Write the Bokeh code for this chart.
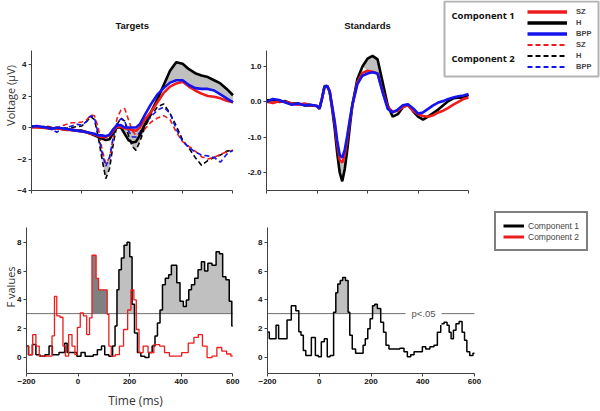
import numpy as np
from bokeh.plotting import figure
from bokeh.layouts import row, column
from bokeh.models import (Label, Legend, LegendItem, BoxAnnotation,
                          PrintfTickFormatter, FixedTicker)
from bokeh.embed import file_html
from bokeh.resources import INLINE

# ---------------------------------------------------------------- data
time_ticks = [-200, 0, 200, 400, 600]

# Targets ERP (uV)
t_targets = [-200, -180, -160, -140, -120, -100, -80, -60, -40, -20,
             0, 20, 35, 50, 65, 80, 95, 110, 125, 140,
             155, 170, 185, 200, 215, 230, 250, 275, 300, 325,
             350, 375, 400, 425, 450, 475, 500, 525, 550, 575, 600]
tgt_H_c1 = [0.05, 0.05, 0.0, 0.0, -0.05, -0.05, -0.1, -0.1, -0.15, -0.2,
            -0.2, -0.3, -0.4, -0.5, -0.6, -0.7, -0.8, -0.75, -0.3, 0.0,
            0.0, -0.4, -0.8, -0.95, -0.9, -0.5, 0.2, 1.0, 1.8, 2.7,
            3.6, 4.15, 4.05, 3.7, 3.45, 3.3, 3.2, 3.0, 2.8, 2.45, 2.05]
tgt_SZ_c1 = [0.0, 0.0, 0.0, -0.05, -0.1, -0.05, -0.1, -0.15, -0.15, -0.2,
             -0.25, -0.3, -0.4, -0.45, -0.55, -0.6, -0.6, -0.5, -0.2, 0.05,
             0.05, -0.05, -0.1, -0.15, -0.2, 0.0, 0.5, 1.0, 1.6, 2.2,
             2.6, 2.8, 2.9, 2.6, 2.35, 2.15, 2.0, 1.95, 1.85, 1.7, 1.6]
tgt_BPP_c1 = [0.05, 0.1, 0.05, 0.0, -0.1, 0.0, -0.05, -0.1, -0.15, -0.2,
              -0.25, -0.3, -0.35, -0.4, -0.5, -0.5, -0.55, -0.45, -0.1, 0.15,
              0.15, 0.0, 0.0, 0.0, 0.0, 0.2, 0.8, 1.5, 2.1, 2.5,
              2.85, 3.0, 3.0, 2.7, 2.5, 2.45, 2.45, 2.35, 2.1, 1.85, 1.6]
tgt_H_c2 = [0.1, 0.05, 0.0, 0.0, 0.0, -0.05, -0.1, -0.05, 0.0, 0.05,
            0.1, 0.4, 0.7, 0.5, -0.6, -2.0, -3.25, -2.6, -1.0, 0.2,
            0.6, 0.4, -0.5, -1.2, -1.45, -0.9, 0.0, 0.8, 1.3, 1.5,
            0.9, 0.1, -0.8, -1.3, -1.9, -2.4, -2.1, -1.9, -1.75, -1.5, -1.45]
tgt_SZ_c2 = [0.05, 0.0, 0.05, 0.1, 0.0, 0.0, 0.1, 0.2, 0.3, 0.3,
             0.35, 0.5, 0.8, 0.75, 0.0, -1.4, -2.3, -1.9, -0.6, 0.6,
             1.1, 1.2, 0.5, -0.2, -0.5, -0.4, -0.1, 0.35, 0.6, 0.75,
             0.5, -0.3, -0.9, -1.2, -1.5, -1.85, -2.0, -1.9, -1.7, -1.55, -1.45]
tgt_BPP_c2 = [0.05, 0.1, 0.05, 0.0, -0.1, -0.3, -0.1, 0.0, 0.1, 0.2,
              0.15, 0.4, 0.75, 0.6, -0.4, -1.6, -2.45, -1.9, -0.6, 0.3,
              0.55, 0.4, -0.2, -0.6, -0.6, -0.3, 0.2, 0.7, 1.1, 1.3,
              0.9, -0.1, -0.9, -1.25, -1.55, -1.75, -1.8, -1.9, -2.2, -1.7, -1.45]
tgt_c1_sig = [(145, 235), (320, 600)]
tgt_c2_sig = [(60, 115), (185, 230)]

# Standards ERP (uV)
t_standards = [-200, -175, -150, -125, -100, -75, -50, -25, 0, 10,
               20, 30, 40, 50, 60, 70, 80, 90, 100, 110,
               120, 130, 140, 160, 180, 200, 220, 240, 260, 280,
               300, 320, 340, 360, 380, 400, 420, 440, 460, 480,
               500, 520, 540, 560, 580, 600]
std_H = [0.04, 0.05, 0.0, 0.02, -0.05, -0.05, -0.1, -0.1, -0.12, -0.2,
         0.1, 0.45, 0.45, 0.3, -0.2, -0.75, -1.45, -2.0, -2.25, -1.9,
         -1.35, -0.7, -0.1, 0.65, 1.0, 1.22, 1.3, 1.2, 0.55, -0.1,
         -0.42, -0.35, -0.15, -0.08, -0.26, -0.42, -0.5, -0.42, -0.32, -0.22,
         -0.1, 0.02, 0.1, 0.12, 0.12, 0.2]
std_SZ = [0.0, -0.03, 0.02, 0.0, -0.05, -0.08, -0.05, -0.1, -0.12, -0.18,
          0.1, 0.43, 0.45, 0.3, -0.15, -0.6, -1.2, -1.65, -1.72, -1.5,
          -1.05, -0.55, -0.1, 0.55, 0.82, 0.88, 0.85, 0.8, 0.3, -0.15,
          -0.28, -0.25, -0.15, -0.1, -0.25, -0.35, -0.4, -0.42, -0.38, -0.3,
          -0.25, -0.17, -0.08, 0.0, 0.08, 0.12]
std_BPP = [0.0, 0.08, 0.05, -0.02, -0.08, -0.05, -0.1, -0.08, -0.12, -0.18,
           0.1, 0.43, 0.45, 0.3, -0.12, -0.55, -1.1, -1.5, -1.58, -1.35,
           -0.95, -0.5, -0.08, 0.5, 0.74, 0.8, 0.84, 0.8, 0.27, -0.2,
           -0.3, -0.22, -0.1, -0.07, -0.18, -0.33, -0.3, -0.2, -0.1, -0.02,
           0.02, 0.08, 0.12, 0.16, 0.18, 0.22]
std_c1_sig = [(60, 120), (200, 245)]

# F values
f_threshold = 3.05
fT_c2_t = [-200, -182, -170, -157, -144, -106, -96, -87, -78, -62,
           -55, -43, -30, -17, -7, 2, 15, 27, 40, 49,
           59, 66, 74, 85, 110, 116, 123, 135, 154, 167,
           186, 199, 211, 222, 230, 243, 262, 281, 307, 326,
           345, 364, 389, 415, 440, 459, 474, 491, 510, 529,
           548, 567, 586, 600]
fT_c2 = [0.8, 0.2, 1.6, 0.8, 0.1, 0.1, 1.5, 4.25, 2.9, 2.8,
         0.8, 0.1, 1.6, 0.8, 0.2, 2.1, 3.1, 2.9, 1.6, 2.75,
         7.1, 7.1, 5.5, 4.7, 4.7, 3.0, 0.8, 0.1, 0.2, 0.8,
         1.95, 3.3, 4.7, 4.0, 1.95, 0.35, 0.8, 0.35, 0.9, 0.8,
         0.35, 0.1, 0.1, 0.35, 1.0, 1.4, 1.6, 0.8, 0.0, 0.1,
         0.7, 0.45, 0.25, 0.1]
fT_c1_t = [-200, -185, -170, -157, -138, -119, -106, -93, -55, -49,
           -36, -11, 2, 21, 34, 53, 65, 85, 97, 110,
           129, 139, 148, 154, 163, 173, 184, 196, 205, 214,
           224, 237, 250, 269, 281, 294, 303, 313, 323, 332,
           345, 358, 366, 377, 389, 402, 415, 425, 434, 446,
           459, 472, 485, 497, 510, 529, 542, 555, 567, 580,
           593, 600]
fT_c1 = [0.8, 0.2, 0.9, 0.2, 0.1, 0.2, 0.8, 0.2, 0.35, 1.0,
         0.35, 0.35, 0.1, 0.35, 0.1, 0.1, 0.2, 0.55, 0.8, 0.2,
         0.1, 0.8, 2.2, 4.7, 6.1, 6.9, 7.8, 8.0, 7.0, 3.7,
         1.7, 0.35, 0.1, 0.0, 0.35, 0.8, 1.5, 2.4, 3.3, 5.05,
         5.5, 5.75, 6.4, 6.4, 5.2, 3.9, 3.55, 4.0, 4.7, 5.05,
         5.5, 6.1, 6.65, 6.0, 6.55, 6.4, 7.35, 7.2, 5.6, 5.4,
         3.9, 2.2]
fS_c1_t = [-200, -186, -170, -164, -150, -131, -118, -98, -83, -75,
           -66, -57, -47, -34, -27, -18, -12, 5, 11, 28,
           34, 50, 61, 67, 76, 86, 95, 108, 115, 121,
           134, 147, 166, 173, 183, 192, 201, 211, 218, 231,
           244, 253, 263, 276, 302, 321, 334, 347, 360, 373,
           392, 405, 418, 437, 450, 463, 476, 489, 499, 505,
           514, 523, 534, 547, 557, 566, 575, 588, 600]
fS_c1 = [1.77, 1.3, 1.3, 2.25, 1.3, 1.3, 2.6, 3.6, 3.25, 1.8,
         1.55, 0.5, 0.15, 0.15, 1.4, 1.4, 0.15, 0.05, 1.1, 1.3,
         0.05, 0.15, 3.15, 4.5, 5.1, 5.35, 5.55, 5.35, 3.15, 1.55,
         0.6, 0.3, 0.3, 0.85, 1.3, 2.0, 2.7, 3.6, 3.7, 3.4,
         2.45, 1.75, 0.85, 0.6, 0.6, 0.65, 0.4, 0.05, 0.2, 0.4,
         0.4, 0.75, 0.6, 0.75, 0.85, 1.75, 2.35, 2.45, 2.25, 1.75,
         1.3, 1.9, 2.35, 2.5, 1.75, 1.2, 0.4, 0.15, 0.3]
fT_c2_shade = [(55, 115)]
fT_c1_shade = [(145, 235), (315, 598)]
fS_c1_shade = [(55, 120), (205, 240)]

# ---------------------------------------------------------------- style
RED = "#ee1c1c"
BLUE = "#1414ee"
BLACK = "#000000"
LIGHT = "#c0c0c0"
DARK = "#808080"
AXIS = "#404040"
DASH = "5 3"
NO_POINT = np.array([np.nan])   # legend-only renderers carry no visible data


# Panel geometry (page pixels): frame box, and the pixel positions of two
# known values on each axis (used to derive ranges that reach past the axes)
class Geo:
    def __init__(self, frame, xmap, ymap, ybounds):
        self.fx0, self.fx1, self.fy0, self.fy1 = frame
        (self.xa, self.pxa), (self.xb, self.pxb) = xmap
        (self.ya, self.pya), (self.yb, self.pyb) = ymap
        self.ybounds = ybounds

    def x(self, px):
        return self.xa + (px - self.pxa) * (self.xb - self.xa) / (self.pxb - self.pxa)

    def y(self, py):
        return self.ya + (py - self.pya) * (self.yb - self.ya) / (self.pyb - self.pya)

    def xr(self):
        return (self.x(self.fx0), self.x(self.fx1))

    def yr(self):
        return (self.y(self.fy1), self.y(self.fy0))


G_TL = Geo((22, 244, 0, 190), ((-200, 22), (600, 232)), ((4, 64), (-4, 190)), (-4, 4.9))
G_TR = Geo((266, 600, 0, 190), ((-200, 266), (600, 468)), ((1, 66), (-2, 172)), (-2.5, 1.45))
G_BL = Geo((22, 244, 200, 374), ((-200, 22), (600, 232)), ((8, 242), (0, 358)), (-1.1, 9))
G_BR = Geo((267, 600, 200, 374), ((-200, 267), (600, 474)), ((8, 242), (0, 358)), (-1.1, 9))


def make_fig(g, fig_x0, fig_y0, fig_x1, fig_y1, xlabels=True):
    p = figure(width=fig_x1 - fig_x0, height=fig_y1 - fig_y0,
               x_range=g.xr(), y_range=g.yr(),
               output_backend="svg", toolbar_location=None,
               min_border_left=g.fx0 - fig_x0, min_border_right=fig_x1 - g.fx1,
               min_border_top=g.fy0 - fig_y0, min_border_bottom=fig_y1 - g.fy1)
    p.xgrid.visible = False
    p.ygrid.visible = False
    p.outline_line_color = None
    for ax in (p.xaxis[0], p.yaxis[0]):
        ax.axis_line_color = AXIS
        ax.major_tick_line_color = AXIS
        ax.major_tick_in = 0
        ax.major_tick_out = 3
        ax.minor_tick_line_color = None
        ax.major_label_text_font = "Liberation Sans"
        ax.major_label_text_font_style = "bold"
        ax.major_label_text_font_size = "8px"
        ax.major_label_text_color = "#111111"
        ax.major_label_standoff = 2
    p.xaxis.ticker = FixedTicker(ticks=time_ticks)
    p.xaxis.bounds = (time_ticks[0], time_ticks[-1])
    p.yaxis.bounds = g.ybounds
    if not xlabels:
        p.xaxis.major_label_text_font_size = "1px"
        p.xaxis.major_label_text_color = None
        p.xaxis.major_label_standoff = 0
    return p


def ylabel(p, text):
    p.yaxis.axis_label = text
    p.yaxis.axis_label_text_font = "Open Sans"
    p.yaxis.axis_label_text_font_style = "normal"
    p.yaxis.axis_label_text_font_size = "11px"
    p.yaxis.axis_label_text_color = "#333333"
    p.yaxis.axis_label_standoff = -4


def nearest_masked(t, ref, others, windows):
    t = np.asarray(t, float)
    ref = np.asarray(ref, float)
    o = np.array(others, float)
    idx = np.argmin(np.abs(o - ref), axis=0)
    near = o[idx, np.arange(len(t))]
    inwin = np.zeros(len(t), bool)
    for a, b in windows:
        inwin |= (t >= a) & (t <= b)
    return np.where(inwin, near, ref)


def f_shade(t, f, windows):
    t = np.asarray(t, float)
    f = np.asarray(f, float)
    inwin = np.zeros(len(t), bool)
    for a, b in windows:
        inwin |= (t >= a) & (t <= b)
    return np.where(inwin & (f > f_threshold), f, f_threshold)


def add_label(p, g, px, py, text, **kw):
    opts = dict(text_font="Liberation Sans", text_font_size="9px",
                text_align="center", text_baseline="middle", text_color="#111111")
    opts.update(kw)
    lab = Label(x=g.x(px), y=g.y(py), text=text, **opts)
    p.add_layout(lab)
    return lab


# ---------------------------------------------------------------- top-left: Targets
tl = make_fig(G_TL, 0, 0, 244, 200, xlabels=False)
tl.yaxis.ticker = FixedTicker(ticks=[-4, -2, 0, 2, 4])
ylabel(tl, "Voltage (µV)")
tl.varea(x=t_targets, y1=tgt_H_c2,
         y2=nearest_masked(t_targets, tgt_H_c2, [tgt_SZ_c2, tgt_BPP_c2], tgt_c2_sig),
         fill_color=LIGHT)
tl.varea(x=t_targets, y1=tgt_H_c1,
         y2=nearest_masked(t_targets, tgt_H_c1, [tgt_SZ_c1, tgt_BPP_c1], tgt_c1_sig),
         fill_color=LIGHT)
tl.line(t_targets, tgt_H_c2, line_color=BLACK, line_width=1.6, line_dash=DASH)
tl.line(t_targets, tgt_SZ_c2, line_color=RED, line_width=1.6, line_dash=DASH)
tl.line(t_targets, tgt_BPP_c2, line_color=BLUE, line_width=1.6, line_dash=DASH)
tl.line(t_targets, tgt_H_c1, line_color=BLACK, line_width=2.6)
tl.line(t_targets, tgt_SZ_c1, line_color=RED, line_width=2.6)
tl.line(t_targets, tgt_BPP_c1, line_color=BLUE, line_width=2.6)
add_label(tl, G_TL, 127, 25, "Targets", text_font_style="bold", text_font_size="9.5px")

# ---------------------------------------------------------------- top-right: Standards
tr = make_fig(G_TR, 244, 0, 600, 200, xlabels=False)
tr.yaxis.ticker = FixedTicker(ticks=[-2, -1, 0, 1])
tr.yaxis.formatter = PrintfTickFormatter(format="%.1f")
tr.varea(x=t_standards, y1=std_H,
         y2=nearest_masked(t_standards, std_H, [std_SZ, std_BPP], std_c1_sig),
         fill_color=LIGHT)
tr.line(t_standards, std_H, line_color=BLACK, line_width=2.6)
tr.line(t_standards, std_SZ, line_color=RED, line_width=2.6)
tr.line(t_standards, std_BPP, line_color=BLUE, line_width=2.6)
add_label(tr, G_TR, 367, 25, "Standards", text_font_style="bold", text_font_size="9.5px")

# legend (group legend with component captions)
leg_specs = [("SZ", RED, None), ("H", BLACK, None), ("BPP", BLUE, None),
             ("SZ", RED, DASH), ("H", BLACK, DASH), ("BPP", BLUE, DASH)]
items = []
for lab, col, dash in leg_specs:
    if dash is None:
        r = tr.line(x=NO_POINT, y=NO_POINT, line_color=col, line_width=3.5)
    else:
        r = tr.line(x=NO_POINT, y=NO_POINT, line_color=col, line_width=1.8, line_dash=dash)
    items.append(LegendItem(label=lab, renderers=[r]))
leg1 = Legend(items=items, location=(527 - G_TR.fx0, G_TR.fy1 - 72),
              orientation="vertical",
              glyph_width=40, glyph_height=11, label_height=11, spacing=0,
              padding=0, margin=0, label_standoff=9,
              border_line_color=None, background_fill_alpha=0,
              label_text_font="Liberation Sans", label_text_font_style="bold",
              label_text_font_size="7.5px")
tr.add_layout(leg1)
tr.add_layout(BoxAnnotation(left=G_TR.x(444), right=G_TR.x(598),
                            top=G_TR.y(1), bottom=G_TR.y(76),
                            fill_alpha=0, line_color=BLACK, line_width=2))
add_label(tr, G_TR, 451, 15, "Component 1", text_align="left",
          text_font="Open Sans", text_font_style="bold", text_font_size="9.5px")
add_label(tr, G_TR, 451, 58, "Component 2", text_align="left",
          text_font="Open Sans", text_font_style="bold", text_font_size="9.5px")

# ---------------------------------------------------------------- bottom-left: F targets
bl = make_fig(G_BL, 0, 200, 244, 411)
bl.yaxis.ticker = FixedTicker(ticks=[0, 2, 4, 6, 8])
ylabel(bl, "F values")
bl.xaxis.axis_label = "Time (ms)"
bl.xaxis.axis_label_text_font = "Open Sans"
bl.xaxis.axis_label_text_font_style = "normal"
bl.xaxis.axis_label_text_font_size = "12px"
bl.xaxis.axis_label_text_color = "#333333"
bl.xaxis.axis_label_standoff = 5
bl.varea_step(x=fT_c2_t, y1=[f_threshold] * len(fT_c2_t),
              y2=f_shade(fT_c2_t, fT_c2, fT_c2_shade), step_mode="center",
              fill_color=DARK)
bl.varea_step(x=fT_c1_t, y1=[f_threshold] * len(fT_c1_t),
              y2=f_shade(fT_c1_t, fT_c1, fT_c1_shade), step_mode="center",
              fill_color=LIGHT)
bl.line(x=[time_ticks[0], time_ticks[-1]], y=[f_threshold, f_threshold],
        line_color="#707070", line_width=1)
bl.step(fT_c1_t, fT_c1, mode="center", line_color=BLACK, line_width=1.5)
bl.step(fT_c2_t, fT_c2, mode="center", line_color=RED, line_width=1.3)

# ---------------------------------------------------------------- bottom-right: F standards
br = make_fig(G_BR, 244, 200, 600, 411)
br.yaxis.ticker = FixedTicker(ticks=[0, 2, 4, 6, 8])
br.varea_step(x=fS_c1_t, y1=[f_threshold] * len(fS_c1_t),
              y2=f_shade(fS_c1_t, fS_c1, fS_c1_shade), step_mode="center",
              fill_color=LIGHT)
br.line(x=[time_ticks[0], time_ticks[-1]], y=[f_threshold, f_threshold],
        line_color="#707070", line_width=1)
br.add_layout(Label(x=G_BR.x(423), y=f_threshold, text="p<.05", text_align="center",
                    text_baseline="middle", text_font="Liberation Sans",
                    text_font_size="9.5px", text_color="#555555",
                    background_fill_color="white", padding=6))
br.step(fS_c1_t, fS_c1, mode="center", line_color=BLACK, line_width=1.5)
r_c1 = br.line(x=NO_POINT, y=NO_POINT, line_color=BLACK, line_width=3)
r_c2 = br.line(x=NO_POINT, y=NO_POINT, line_color=RED, line_width=3)
leg2 = Legend(items=[LegendItem(label="Component 1", renderers=[r_c1]),
                     LegendItem(label="Component 2", renderers=[r_c2])],
              location=(494 - G_BR.fx0, G_BR.fy1 - 252), orientation="vertical",
              glyph_width=21, glyph_height=11, label_height=11, spacing=0,
              padding=7, margin=0, label_standoff=4,
              border_line_color=BLACK, border_line_width=2,
              background_fill_color="white",
              label_text_font="Liberation Sans", label_text_font_size="8.5px")
br.add_layout(leg2)

layout = column(row(tl, tr), row(bl, br))
open("out.html", "w").write(file_html(layout, INLINE))
